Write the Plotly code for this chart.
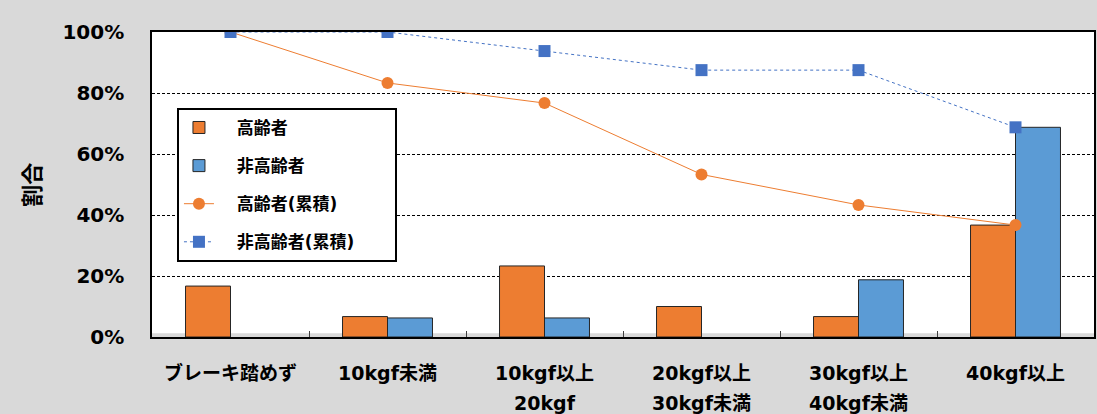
import plotly.graph_objects as go

# Brake-force categories (first and second line of each axis label)
label_line1 = ["ブレーキ踏めず", "10kgf未満", "10kgf以上", "20kgf以上", "30kgf以上", "40kgf以上"]
label_line2 = ["", "", "20kgf", "30kgf未満", "40kgf未満", ""]
categories = ["ブレーキ踏めず", "10kgf未満", "10kgf以上 20kgf", "20kgf以上 30kgf未満",
              "30kgf以上 40kgf未満", "40kgf以上"]

# Share of drivers in each category (%)
elderly = [16.7, 6.7, 23.3, 10.0, 6.7, 36.7]
non_elderly = [0, 6.25, 6.25, 0, 18.75, 68.75]

# Cumulative share (%)
elderly_cum = [100, 83.3, 76.7, 53.3, 43.3, 36.7]
non_elderly_cum = [100, 100, 93.75, 87.5, 87.5, 68.75]

ORANGE = "#ED7D31"
BLUE_BAR = "#5B9BD5"
BLUE_LINE = "#4472C4"
BG = "#D9D9D9"
FONT = "DejaVu Sans, Noto Sans CJK JP, sans-serif"
NBSP = "\u00a0"


def bars(values):
    # empty categories get no bar at all (avoids an outline on the axis)
    return [v if v else None for v in values]


def legend_name(text, trail=0):
    # non-breaking spaces give the legend entries some breathing room
    return NBSP * 3 + text + NBSP * trail


fig = go.Figure()
fig.add_trace(go.Bar(
    x=categories, y=bars(elderly), name=legend_name("高齢者"), legendgroup="a",
    marker=dict(color=ORANGE, line=dict(color="#262626", width=1)),
))
fig.add_trace(go.Bar(
    x=categories, y=bars(non_elderly), name=legend_name("非高齢者"), legendgroup="b",
    marker=dict(color=BLUE_BAR, line=dict(color="#262626", width=1)),
))
fig.add_trace(go.Scatter(
    x=categories, y=elderly_cum, name=legend_name("高齢者(累積)"), legendgroup="c",
    mode="lines+markers",
    line=dict(color=ORANGE, width=1),
    marker=dict(color=ORANGE, size=12, symbol="circle"),
))
fig.add_trace(go.Scatter(
    x=categories, y=non_elderly_cum, name=legend_name("非高齢者(累積)", 6), legendgroup="d",
    mode="lines+markers",
    line=dict(color=BLUE_LINE, width=1, dash="dot"),
    marker=dict(color=BLUE_LINE, size=12, symbol="square"),
))

# Second line of the two-line category labels
for cat, sub in zip(categories, label_line2):
    if sub:
        fig.add_annotation(
            x=cat, xref="x", y=-0.215, yref="paper", text=sub, showarrow=False,
            xanchor="center", yanchor="middle",
            font=dict(family=FONT, size=19, color="black", weight="bold"),
        )

# Axis title
fig.add_annotation(
    x=-0.127, xref="paper", y=0.5, yref="paper", text="割合", showarrow=False,
    xanchor="center", yanchor="middle", textangle=-90,
    font=dict(family=FONT, size=22, color="black", weight="bold"),
)

# Grey floor strip along the bottom of the plot area
fig.add_shape(type="rect", xref="paper", x0=0, x1=1, yref="y", y0=0, y1=1.2,
              fillcolor=BG, line=dict(width=0), layer="below")

fig.update_layout(
    width=1097, height=414,
    margin=dict(l=152, r=1, t=32, b=77),
    paper_bgcolor=BG, plot_bgcolor="white",
    barmode="group", bargap=0.427, bargroupgap=0,
    font=dict(family=FONT, color="black"),
    showlegend=True,
    legend=dict(
        x=0.0265, y=0.751, xanchor="left", yanchor="top",
        bgcolor="white", bordercolor="black", borderwidth=2,
        font=dict(family=FONT, size=17, color="black", weight="bold"),
        traceorder="grouped", tracegroupgap=13,
    ),
    xaxis=dict(
        tickmode="array", tickvals=categories, ticktext=label_line1,
        tickfont=dict(family=FONT, size=19, color="black", weight="bold"),
        showline=True, linecolor="black", linewidth=1.5, mirror=True,
        ticks="inside", tickson="boundaries", ticklen=6, tickcolor="#404040",
        ticklabelstandoff=18, showgrid=False,
    ),
    yaxis=dict(
        range=[0, 100], dtick=20, ticksuffix="%",
        tickfont=dict(family=FONT, size=20, color="black", weight="bold"),
        showline=True, linecolor="black", linewidth=1.5, mirror=True,
        showgrid=True, gridcolor="black", gridwidth=1, griddash="3px,2px",
        zeroline=False, ticks="", ticklabelstandoff=22,
    ),
)

fig.write_html("out.html")
